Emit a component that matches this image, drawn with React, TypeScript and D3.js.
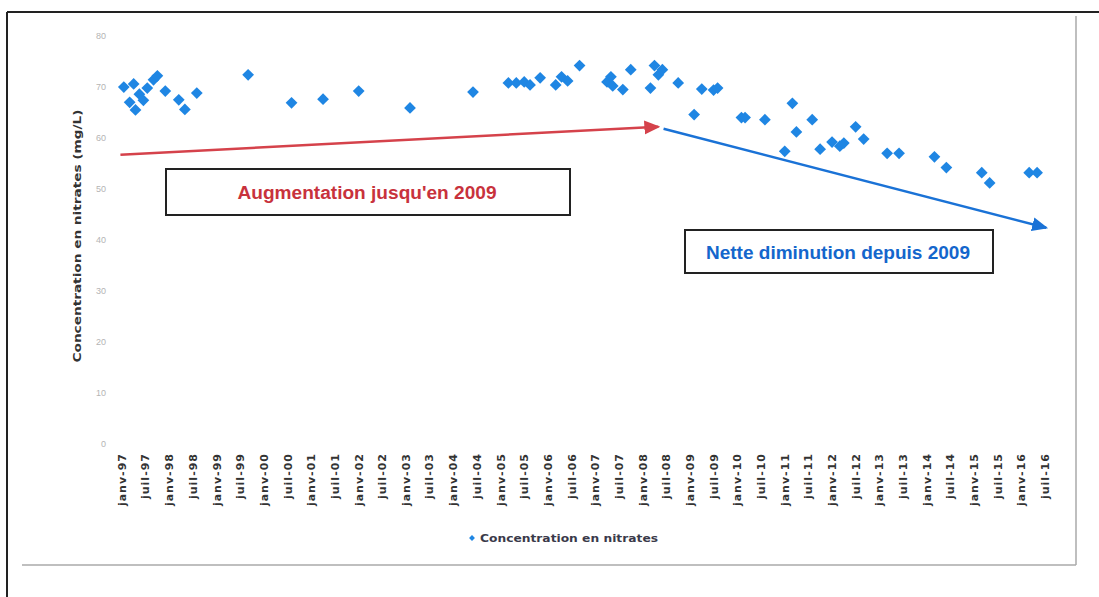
import * as d3 from "d3";

// nitrate samples (date, mg/L)
const sampleDates = [
  "1997-01-15", "1997-03-01", "1997-04-01", "1997-04-15", "1997-05-15", "1997-06-15",
  "1997-07-15", "1997-09-01", "1997-10-01", "1997-12-01", "1998-03-15", "1998-05-01",
  "1998-08-01", "1999-09-01", "2000-08-01", "2001-04-01", "2002-01-01", "2003-02-01",
  "2004-06-01", "2005-03-01", "2005-05-01", "2005-07-01", "2005-08-15", "2005-11-01",
  "2006-03-01", "2006-04-15", "2006-06-01", "2006-09-01", "2007-04-01", "2007-05-01",
  "2007-05-15", "2007-08-01", "2007-10-01", "2008-03-01", "2008-04-01", "2008-05-01",
  "2008-06-01", "2008-10-01", "2009-02-01", "2009-04-01", "2009-07-01", "2009-08-01",
  "2010-02-01", "2010-03-01", "2010-08-01", "2011-01-01", "2011-03-01", "2011-04-01",
  "2011-08-01", "2011-10-01", "2012-01-01", "2012-03-01", "2012-04-01", "2012-07-01",
  "2012-09-01", "2013-03-01", "2013-06-01", "2014-03-01", "2014-06-01", "2015-03-01",
  "2015-05-01", "2016-03-01", "2016-05-01",
];
const nitrateValues = [
  70.0, 67.0, 70.6, 65.5, 68.6, 67.4,
  69.8, 71.4, 72.2, 69.2, 67.5, 65.6,
  68.8, 72.4, 66.9, 67.6, 69.2, 65.9,
  69.0, 70.8, 70.8, 71.0, 70.4, 71.8,
  70.4, 72.0, 71.2, 74.2, 71.0, 72.0,
  70.2, 69.5, 73.4, 69.8, 74.2, 72.4,
  73.4, 70.8, 64.6, 69.6, 69.4, 69.8,
  64.0, 64.0, 63.6, 57.4, 66.8, 61.2,
  63.6, 57.8, 59.2, 58.4, 59.0, 62.2,
  59.8, 57.0, 57.0, 56.3, 54.2, 53.2,
  51.2, 53.2, 53.2,
];

const tickLabels = [
  "janv-97", "juil-97", "janv-98", "juil-98", "janv-99", "juil-99", "janv-00", "juil-00",
  "janv-01", "juil-01", "janv-02", "juil-02", "janv-03", "juil-03", "janv-04", "juil-04",
  "janv-05", "juil-05", "janv-06", "juil-06", "janv-07", "juil-07", "janv-08", "juil-08",
  "janv-09", "juil-09", "janv-10", "juil-10", "janv-11", "juil-11", "janv-12", "juil-12",
  "janv-13", "juil-13", "janv-14", "juil-14", "janv-15", "juil-15", "janv-16", "juil-16",
];
const yTicks = [0, 10, 20, 30, 40, 50, 60, 70, 80];

// trend arrows: [start date, start value, end date, end value]
const riseArrow = ["1996-12-20", 56.7, "2008-05-01", 62.2];
const fallArrow = ["2008-06-10", 61.8, "2016-07-10", 42.4];

const parse = d3.timeParse("%Y-%m-%d");
const monthOf = (label: string) => {
  const [m, y] = label.split("-");
  return new Date(2000 + +y - (+y > 50 ? 100 : 0), m === "janv" ? 0 : 6, 1);
};

const width = 1099;
const height = 597;

export default function App() {
  const x = d3.scaleTime()
    .domain([new Date(1997, 0, 1), new Date(2016, 6, 1)])
    .range([122, 1045]);
  const y = d3.scaleLinear().domain([0, 80]).range([444, 36]);

  const diamond = d3.symbol().type(d3.symbolDiamond2).size(88)();
  const smallDiamond = d3.symbol().type(d3.symbolDiamond2).size(22)();
  const blue = "#1f86e3";

  const rx1 = x(parse(riseArrow[0] as string)!), ry1 = y(riseArrow[1] as number);
  const rx2 = x(parse(riseArrow[2] as string)!), ry2 = y(riseArrow[3] as number);
  const fx1 = x(parse(fallArrow[0] as string)!), fy1 = y(fallArrow[1] as number);
  const fx2 = x(parse(fallArrow[2] as string)!), fy2 = y(fallArrow[3] as number);

  return (
    <svg width={width} height={height} style={{ position: "absolute", left: 0, top: 0, background: "#fff" }}>
      <defs>
        <marker id="redHead" markerUnits="userSpaceOnUse" markerWidth={16} markerHeight={16}
          refX={14} refY={7} orient="auto" viewBox="0 0 16 14">
          <path d="M0,0 L16,7 L0,14 Z" fill="#d5424b" />
        </marker>
        <marker id="blueHead" markerUnits="userSpaceOnUse" markerWidth={16} markerHeight={16}
          refX={14} refY={7} orient="auto" viewBox="0 0 16 14">
          <path d="M0,0 L16,7 L0,14 Z" fill="#1a72d6" />
        </marker>
      </defs>

      {/* frame */}
      <line x1={7} y1={12} x2={1099} y2={12} stroke="#222" strokeWidth={2} />
      <line x1={7} y1={12} x2={7} y2={597} stroke="#222" strokeWidth={2} />
      <line x1={1076} y1={16} x2={1076} y2={565} stroke="#aaa" strokeWidth={1.5} />
      <line x1={22} y1={565} x2={1076} y2={565} stroke="#aaa" strokeWidth={1.5} />

      {/* y axis labels */}
      {yTicks.map(t => (
        <text key={t} x={106} y={y(t) + 3} textAnchor="end" fontSize={9}
          fontFamily="Liberation Sans, Arial, sans-serif" fill="#b4b4b4">{t}</text>
      ))}
      <text transform={`translate(81,236) rotate(-90)`} textAnchor="middle" fontSize={11}
        fontWeight="bold" fontFamily="DejaVu Sans, sans-serif" fill="#333"
        textLength={253} lengthAdjust="spacingAndGlyphs">
        Concentration en nitrates (mg/L)
      </text>

      {/* x axis labels */}
      {tickLabels.map(l => (
        <text key={l} transform={`translate(${x(monthOf(l)) + 4},453) rotate(-90)`} textAnchor="end"
          fontSize={11} fontWeight="bold" fontFamily="DejaVu Sans, sans-serif" fill="#333"
          letterSpacing={1}>{l}</text>
      ))}

      {/* points */}
      {sampleDates.map((d, i) => (
        <path key={i} d={diamond ?? ""} fill={blue}
          transform={`translate(${x(parse(d)!)},${y(nitrateValues[i])})`} />
      ))}

      {/* trend arrows */}
      <line x1={rx1} y1={ry1} x2={rx2} y2={ry2} stroke="#d5424b" strokeWidth={2.5} markerEnd="url(#redHead)" />
      <line x1={fx1} y1={fy1} x2={fx2} y2={fy2} stroke="#1a72d6" strokeWidth={2.5} markerEnd="url(#blueHead)" />

      {/* annotation boxes */}
      <rect x={166} y={169} width={404} height={46} fill="#fff" stroke="#222" strokeWidth={2} />
      <text x={367} y={199} textAnchor="middle" fontSize={18} fontWeight="bold"
        fontFamily="Liberation Sans, Arial, sans-serif" fill="#c8323c"
        textLength={259} lengthAdjust="spacingAndGlyphs">Augmentation jusqu'en 2009</text>
      <rect x={685} y={230} width={308} height={43} fill="#fff" stroke="#222" strokeWidth={2} />
      <text x={838} y={259} textAnchor="middle" fontSize={18} fontWeight="bold"
        fontFamily="Liberation Sans, Arial, sans-serif" fill="#1466cc"
        textLength={264} lengthAdjust="spacingAndGlyphs">Nette diminution depuis 2009</text>

      {/* legend */}
      <path d={smallDiamond ?? ""} fill={blue} transform="translate(472,538)" />
      <text x={480} y={542} fontSize={10} fontWeight="bold" fontFamily="DejaVu Sans, sans-serif"
        fill="#3a3a4a" textLength={178} lengthAdjust="spacingAndGlyphs">Concentration en nitrates</text>
    </svg>
  );
}
